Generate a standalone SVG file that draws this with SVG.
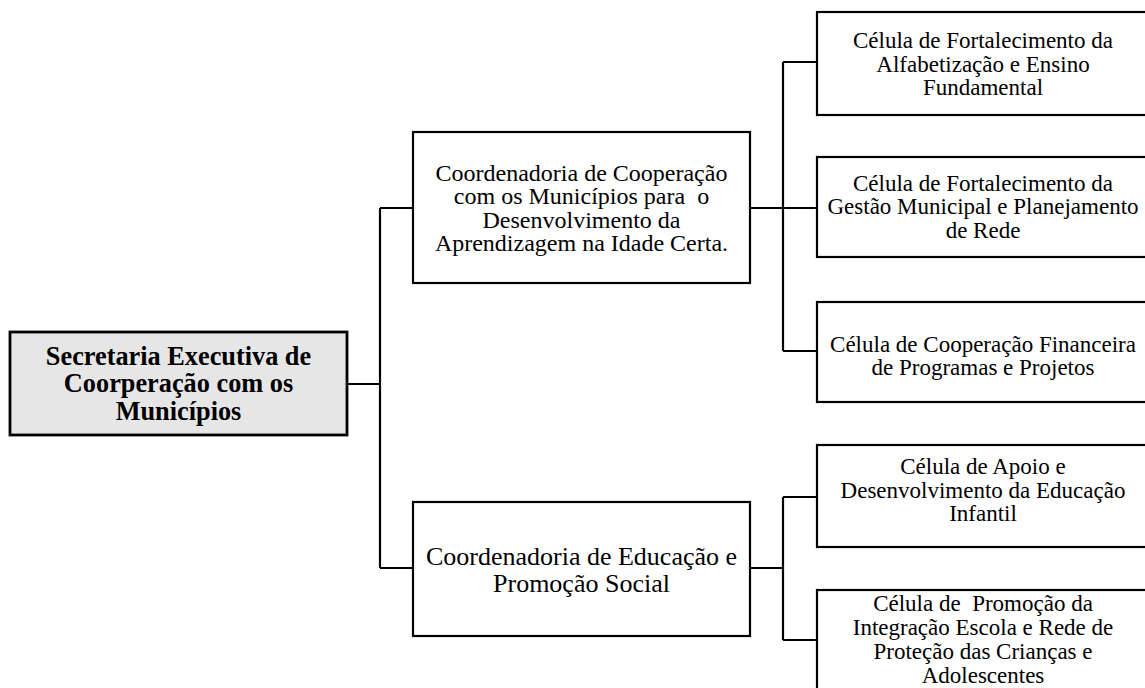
<svg xmlns="http://www.w3.org/2000/svg" width="1145" height="688" viewBox="0 0 1145 688">
<style>
.box{fill:#ffffff;stroke:#000;stroke-width:2.2}
.root{fill:#e6e6e6;stroke:#000;stroke-width:2.8}
.t{font-family:"Liberation Serif","Times New Roman",serif;fill:#000;text-anchor:middle;white-space:pre}
.tb{font-weight:bold;font-size:26.3px}
.tc{font-size:24px}
.te{font-size:26px}
.tl{font-size:23px}
.conn{fill:none;stroke:#000;stroke-width:2.2;stroke-linejoin:miter}
</style>
<rect width="1145" height="688" fill="#ffffff"/>
<g id="connectors">
<path class="conn" d="M347,384 H380 M380,208 V568 M380,208 H413 M380,568 H413"/>
<path class="conn" d="M750,208 H783 M783,62 V351 M783,62 H817 M783,208 H817 M783,351 H817"/>
<path class="conn" d="M750,568 H783 M783,497 V640 M783,497 H817 M783,640 H817"/>
</g>
<g id="root">
<rect class="root" x="10" y="332" width="337" height="103"/>
<text class="t tb" x="178.5" y="364.5">Secretaria Executiva de</text>
<text class="t tb" x="178.5" y="392">Coorperação com os</text>
<text class="t tb" x="178.5" y="419.5">Municípios</text>
</g>
<g id="coord1">
<rect class="box" x="413" y="132" width="337" height="151"/>
<text class="t tc" x="581.5" y="180.5">Coordenadoria de Cooperação</text>
<text class="t tc" x="581.5" y="204">com os Municípios para  o</text>
<text class="t tc" x="581.5" y="227.5">Desenvolvimento da</text>
<text class="t tc" x="581.5" y="251">Aprendizagem na Idade Certa.</text>
</g>
<g id="coord2">
<rect class="box" x="413" y="502" width="337" height="134"/>
<text class="t te" x="581.5" y="564.5">Coordenadoria de Educação e</text>
<text class="t te" x="581.5" y="591.5">Promoção Social</text>
</g>
<g id="cell1">
<rect class="box" x="817" y="12" width="340" height="103"/>
<text class="t tl" x="983" y="48">Célula de Fortalecimento da</text>
<text class="t tl" x="983" y="71.5">Alfabetização e Ensino</text>
<text class="t tl" x="983" y="95">Fundamental</text>
</g>
<g id="cell2">
<rect class="box" x="817" y="157" width="340" height="100"/>
<text class="t tl" x="983" y="190.5">Célula de Fortalecimento da</text>
<text class="t tl" x="983" y="214">Gestão Municipal e Planejamento</text>
<text class="t tl" x="983" y="237.5">de Rede</text>
</g>
<g id="cell3">
<rect class="box" x="817" y="302" width="340" height="100"/>
<text class="t tl" x="983" y="351.5">Célula de Cooperação Financeira</text>
<text class="t tl" x="983" y="375">de Programas e Projetos</text>
</g>
<g id="cell4">
<rect class="box" x="817" y="445" width="340" height="102"/>
<text class="t tl" x="983" y="474">Célula de Apoio e</text>
<text class="t tl" x="983" y="497.5">Desenvolvimento da Educação</text>
<text class="t tl" x="983" y="521">Infantil</text>
</g>
<g id="cell5">
<rect class="box" x="817" y="590" width="340" height="110"/>
<text class="t tl" x="983" y="611">Célula de  Promoção da</text>
<text class="t tl" x="983" y="635">Integração Escola e Rede de</text>
<text class="t tl" x="983" y="659">Proteção das Crianças e</text>
<text class="t tl" x="983" y="683">Adolescentes</text>
</g>
</svg>
